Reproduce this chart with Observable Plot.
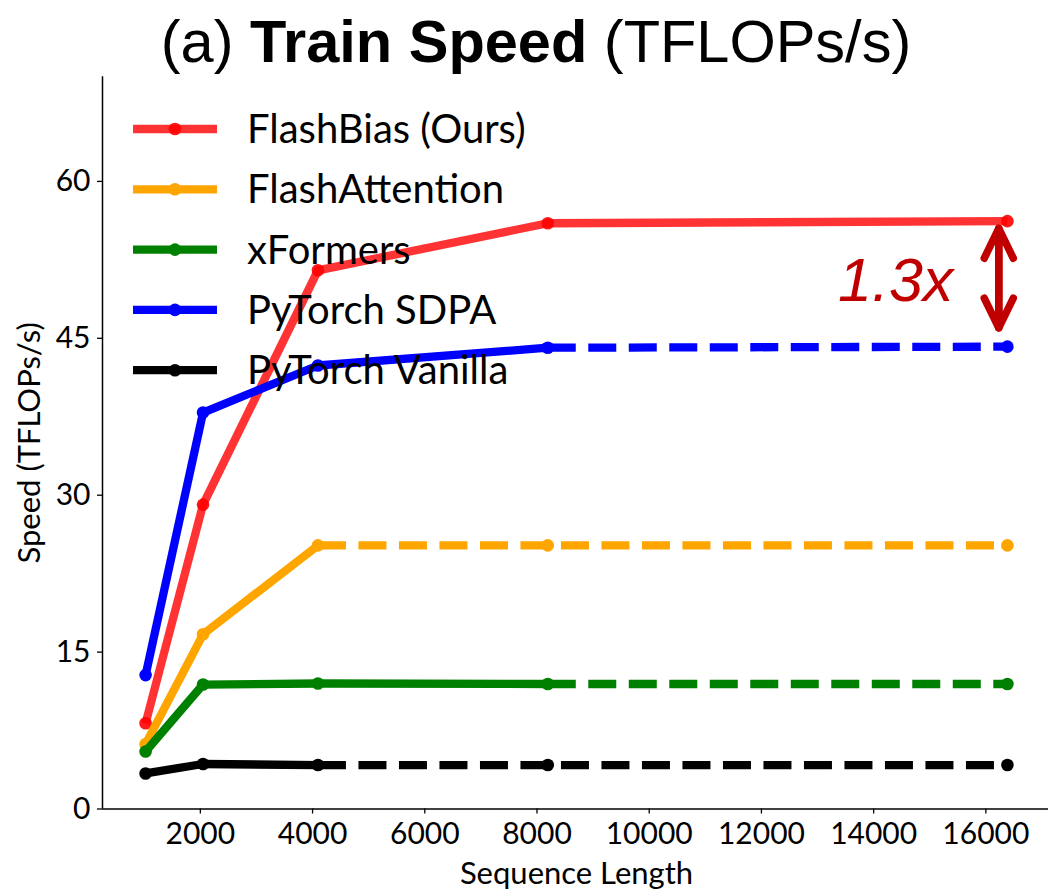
<!DOCTYPE html>
<html><head><meta charset="utf-8">
<script src="https://cdn.jsdelivr.net/npm/d3@7"></script>
<script src="https://cdn.jsdelivr.net/npm/@observablehq/plot@0.6"></script>
<style>
body{margin:0;background:#fff;}
#chart svg{display:block;overflow:visible;}
</style></head><body>
<div id="chart"></div>
<script>
// ---- data ----
const seqLen = [1024, 2048, 4096, 8192, 16384];
const seriesNames = ["FlashBias (Ours)", "FlashAttention", "xFormers", "PyTorch SDPA", "PyTorch Vanilla"];
const flashBias      = [8.2, 29.1, 51.5, 56.0, 56.2];
const flashAttention = [6.2, 16.7, 25.2, 25.2, 25.2];
const xFormers       = [5.5, 11.9, 12.0, 11.95, 11.95];
const pytorchSDPA    = [12.8, 37.9, 42.4, 44.1, 44.2];
const pytorchVanilla = [3.4, 4.3, 4.2, 4.2, 4.2];
// index from which the series is drawn dashed (extrapolated); null = solid throughout
const dashFrom = [null, 2, 3, 3, 2];
const xTicks = [2000, 4000, 6000, 8000, 10000, 12000, 14000, 16000];
const yTicks = [0, 15, 30, 45, 60];
const speedupArrow = [{x: 16230, low: 46.0, high: 55.5}];
const speedupText = [{x: 15420, y: 48.6, label: "1.3x"}];

// ---- styles ----
const colors = ["#ff0000", "#ffa500", "#008000", "#0000ff", "#000000"];
const lineOpacity = [0.8, 1, 1, 1, 1];
const allValues = [flashBias, flashAttention, xFormers, pytorchSDPA, pytorchVanilla];
const FONT = "Lato, 'Open Sans', sans-serif";
const LW = 8.3, R = 6.3;

const marks = [];
allValues.forEach((vals, i) => {
  const pts = seqLen.map((x, j) => ({x, y: vals[j], j}));
  const k = dashFrom[i];
  const solid = k == null ? pts : pts.filter(d => d.j <= k);
  const dashed = k == null ? [] : pts.filter(d => d.j >= k);
  marks.push(Plot.line(solid, {x: "x", y: "y", stroke: colors[i], strokeWidth: LW, strokeOpacity: lineOpacity[i], strokeLinejoin: "round", strokeLinecap: "butt"}));
  if (dashed.length) marks.push(Plot.line(dashed, {x: "x", y: "y", stroke: colors[i], strokeWidth: LW, strokeOpacity: lineOpacity[i], strokeDasharray: "28,12.5", strokeLinecap: "butt"}));
  marks.push(Plot.dot(pts, {x: "x", y: "y", r: R, fill: colors[i], fillOpacity: i === 0 ? 0.9 : 1, stroke: "none"}));
});

const plot = Plot.plot({
  width: 1048, height: 890,
  marginTop: 76.3, marginBottom: 81.5, marginLeft: 102, marginRight: -2,
  x: {type: "linear", domain: [256, 17152], range: [102, 1050]},
  y: {type: "linear", domain: [0, 70], range: [808.5, 76.3]},
  style: {fontFamily: FONT, background: "white", color: "black", overflow: "visible"},
  marks: [
    ...marks,
    Plot.arrow(speedupArrow, {x: "x", y1: "low", y2: "high", stroke: "#c00000", strokeWidth: 7.5, headLength: 8, headAngle: 52, strokeLinecap: "round", strokeLinejoin: "round"}),
    Plot.arrow(speedupArrow, {x: "x", y1: "high", y2: "low", stroke: "#c00000", strokeWidth: 7.5, headLength: 8, headAngle: 52, strokeLinecap: "round", strokeLinejoin: "round"}),
    Plot.text(speedupText, {x: "x", y: "y", text: "label", textAnchor: "end", lineAnchor: "bottom", fill: "#c00000", fontSize: 61, fontStyle: "italic", fontFamily: "'Liberation Sans', Arial, sans-serif"}),
    Plot.ruleY([0], {stroke: "black", strokeWidth: 1.5}),
    Plot.ruleX([256], {y1: 0, y2: 70, stroke: "black", strokeWidth: 1.5}),
    Plot.axisX(xTicks, {tickSize: 5, tickPadding: 9, fontSize: 30, tickFormat: d => String(d), label: null, strokeWidth: 1.3}),
    Plot.axisY(yTicks, {tickSize: 5, tickPadding: 7, fontSize: 30, label: null, strokeWidth: 1.3}),
    Plot.text(["Sequence Length"], {frameAnchor: "bottom", dy: 65, fontSize: 31, textAnchor: "middle", lineAnchor: "middle"}),
    Plot.text(["Speed (TFLOPs/s)"], {frameAnchor: "left", dx: -72, rotate: -90, fontSize: 31, textAnchor: "middle", lineAnchor: "middle"})
  ]
});
document.getElementById("chart").appendChild(plot);

// legend (drawn on top, like matplotlib)
const svg = d3.select(plot);
const lg = svg.append("g");
seriesNames.forEach((name, i) => {
  const y = 129 + i * 60.3;
  lg.append("line").attr("x1", 133).attr("x2", 217).attr("y1", y).attr("y2", y)
    .attr("stroke", colors[i]).attr("stroke-width", LW).attr("stroke-opacity", lineOpacity[i]);
  lg.append("circle").attr("cx", 175).attr("cy", y).attr("r", R).attr("fill", colors[i]).attr("fill-opacity", i === 0 ? 0.9 : 1);
  lg.append("text").attr("x", 247).attr("y", y + 14).attr("text-anchor", "start")
    .attr("font-size", 40).attr("font-family", FONT).attr("fill", "black").text(name);
});
// title
const t = svg.append("text").attr("x", 536).attr("y", 62).attr("text-anchor", "middle")
  .attr("font-family", "'Liberation Sans', Arial, sans-serif").attr("font-size", 59.5).attr("fill", "black");
t.append("tspan").text("(a) ");
t.append("tspan").attr("font-weight", "bold").text("Train Speed");
t.append("tspan").text(" (TFLOPs/s)");
</script>
</body></html>
